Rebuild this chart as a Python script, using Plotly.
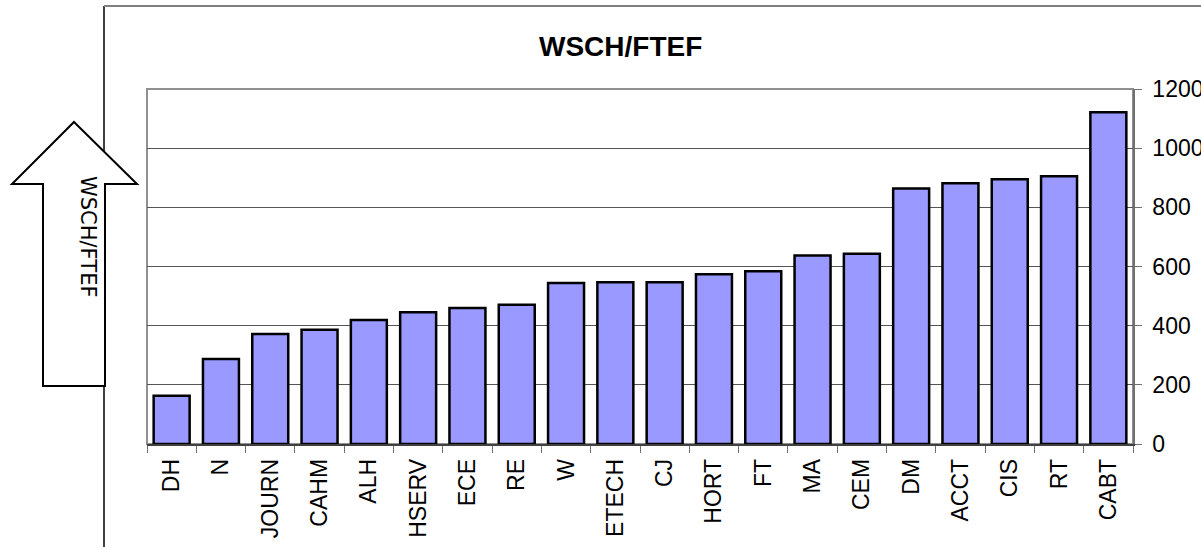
import plotly.graph_objects as go

categories = ["DH", "N", "JOURN", "CAHM", "ALH", "HSERV", "ECE", "RE", "W", "ETECH",
              "CJ", "HORT", "FT", "MA", "CEM", "DM", "ACCT", "CIS", "RT", "CABT"]
values = [163, 287, 372, 386, 419, 445, 460, 471, 544, 547,
          547, 574, 584, 637, 643, 864, 881, 895, 905, 1121]
y_ticks = [0, 200, 400, 600, 800, 1000, 1200]
title_text = "WSCH/FTEF"
arrow_text = "WSCH/FTEF"

W, H = 1201, 547
L, R, T, B = 147, 1133, 89, 444
FONT = "Liberation Sans, Arial, sans-serif"


def px(x):
    return (x - L) / (R - L)


def py(y):
    return (B - y) / (B - T)


fig = go.Figure()
fig.add_trace(go.Bar(
    x=categories, y=values,
    marker=dict(color="#9999FF", line=dict(color="black", width=2.5)),
))

shapes = []
# chart-area border (left black, top gray)
shapes.append(dict(type="line", xref="paper", yref="paper",
                   x0=px(104), x1=px(104), y0=py(6), y1=py(560),
                   line=dict(color="black", width=1.5)))
shapes.append(dict(type="line", xref="paper", yref="paper",
                   x0=px(104), x1=px(1215), y0=py(6), y1=py(6),
                   line=dict(color="#808080", width=2)))
# plot frame
shapes.append(dict(type="rect", xref="paper", yref="paper",
                   x0=0, x1=1, y0=0, y1=1, layer="below",
                   line=dict(color="#909090", width=2)))
# arrow
pts = [(74, 122), (137, 184), (105, 184), (105, 386), (43, 386), (43, 184), (12, 184)]
path = "M " + " L ".join(f"{px(a):.5f},{py(b):.5f}" for a, b in pts) + " Z"
shapes.append(dict(type="path", xref="paper", yref="paper", path=path,
                   fillcolor="white", line=dict(color="black", width=2), layer="above"))

annotations = [
    dict(text=f"<b>{title_text}</b>", xref="paper", yref="paper",
         x=px(620), y=py(47), showarrow=False,
         font=dict(family=FONT, size=28, color="black"),
         xanchor="center", yanchor="middle"),
    dict(text=arrow_text, xref="paper", yref="paper",
         x=px(88), y=py(237), showarrow=False, textangle=90,
         font=dict(family="DejaVu Sans, Verdana, sans-serif", size=21, color="black"),
         xanchor="center", yanchor="middle"),
]

fig.update_layout(
    width=W, height=H,
    margin=dict(l=L, r=W - R, t=T, b=H - B, pad=0, autoexpand=False),
    paper_bgcolor="white", plot_bgcolor="white",
    showlegend=False,
    bargap=0.27,
    shapes=shapes,
    annotations=annotations,
    font=dict(family=FONT, color="black"),
    xaxis=dict(
        type="category", tickangle=-90, tickson="boundaries", automargin=False,
        ticks="outside", ticklen=7, tickcolor="#707070", tickwidth=1,
        showline=True, linecolor="#404040", linewidth=1.5,
        showgrid=False, ticklabelstandoff=4,
        tickfont=dict(family=FONT, size=23, color="black"),
    ),
    yaxis=dict(
        side="right", range=[0, 1200], tickvals=y_ticks, automargin=False,
        ticks="outside", ticklen=7, tickcolor="#707070",
        showline=True, linecolor="#707070", linewidth=1.5,
        showgrid=True, gridcolor="#555555", gridwidth=1,
        zeroline=False, ticklabelstandoff=6,
        tickfont=dict(family=FONT, size=23, color="black"),
    ),
)

fig.write_html("out.html", config={"displayModeBar": False},
               post_script="document.body.style.margin='0';document.body.style.overflow='hidden';")
